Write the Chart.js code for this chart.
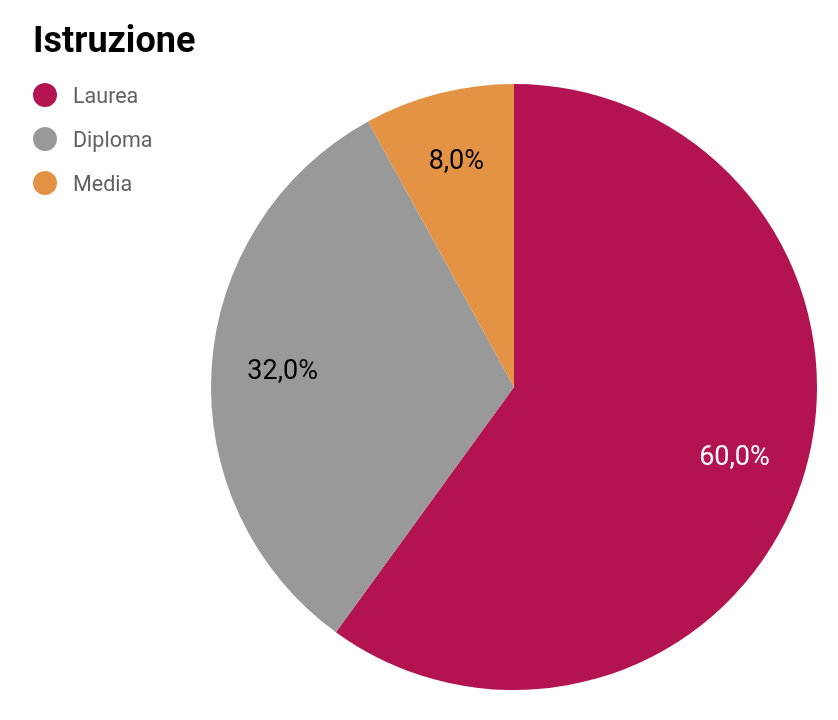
<!doctype html>
<html>
  <head>
    <title>Istruzione</title>
    <script src="https://cdn.jsdelivr.net/npm/chart.js@4/dist/chart.umd.min.js"></script>
    <style>
    body { margin: 0; background: #fff; font-family: Roboto, sans-serif; }
    #wrap { position: relative; width: 838px; height: 720px; }
    #title { position: absolute; left: 33px; top: 19px; font-size: 36px; line-height: 42px; font-weight: bold; color: #000; }
    #legend { position: absolute; left: 33px; top: 73px; }
    .item { display: flex; align-items: center; height: 44px; }
    .dot { width: 24px; height: 24px; border-radius: 50%; margin-right: 16px; }
    .lbl { font-size: 21.5px; color: #616161; }
    </style>
  </head>

  <body>
    <div id="wrap">
      <canvas id="canvas" width="838" height="720"></canvas>
      <div id="title">Istruzione</div>
      <div id="legend"></div>
    </div>

    <script>
      // data
      const categories = ['Laurea', 'Diploma', 'Media'];
      const values = [60, 32, 8];
      const colors = ['#b31451', '#999999', '#e39343'];
      const labelColors = ['#ffffff', '#000000', '#000000'];

      // legend, built from the same arrays
      let legend = document.getElementById('legend');
      categories.forEach(function(name, i) {
        let item = document.createElement('div');
        item.className = 'item';
        item.innerHTML = '<span class="dot" style="background:' + colors[i] + '"></span><span class="lbl">' + name + '</span>';
        legend.appendChild(item);
      });

      // percentage labels inside the slices
      const sliceLabels = {
        id: 'sliceLabels',
        afterDatasetsDraw(chart) {
          let ctx = chart.ctx;
          let total = values.reduce((a, b) => a + b, 0);
          chart.getDatasetMeta(0).data.forEach(function(arc, i) {
            let mid = (arc.startAngle + arc.endAngle) / 2;
            let r = arc.outerRadius * 0.765;
            let x = arc.x + Math.cos(mid) * r;
            let y = arc.y + Math.sin(mid) * r;
            let txt = (values[i] / total * 100).toFixed(1).replace('.', ',') + '%';
            ctx.save();
            ctx.font = '27px Roboto';
            ctx.fillStyle = labelColors[i];
            ctx.textAlign = 'center';
            ctx.textBaseline = 'middle';
            ctx.fillText(txt, x, y);
            ctx.restore();
          });
        }
      };

      const config = {
        type: 'pie',
        data: {
          labels: categories,
          datasets: [{
            data: values,
            backgroundColor: colors,
            borderWidth: 0,
            hoverOffset: 0
          }]
        },
        options: {
          responsive: false,
          animation: false,
          events: [],
          layout: { padding: { left: 211, right: 21, top: 84, bottom: 30 } },
          plugins: {
            legend: { display: false },
            title: { display: false },
            tooltip: { enabled: false }
          }
        },
        plugins: [sliceLabels]
      };

      window.myPie = new Chart(document.getElementById('canvas').getContext('2d'), config);
    </script>
  </body>
</html>
